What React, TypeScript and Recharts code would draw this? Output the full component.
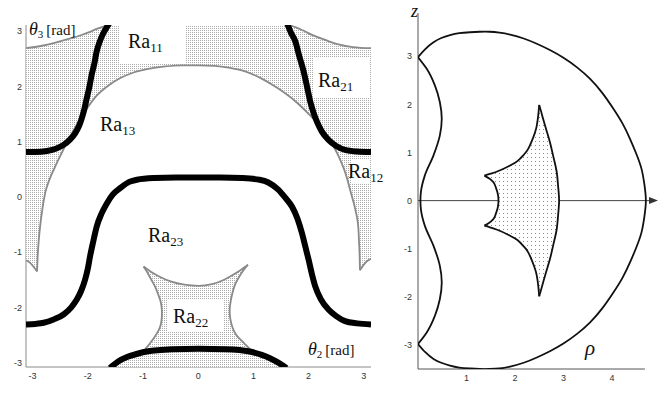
import React from 'react';
import { ScatterChart, Scatter, XAxis, YAxis, ReferenceLine } from 'recharts';

type Pt = { x: number; y: number };

// ---- left panel: joint space (theta2, theta3) ----
const thetaTicks = [-3, -2, -1, 0, 1, 2, 3];

const upperLeftEdge: Pt[] = [
  { x: -3.12, y: 2.69 }, { x: -2.85, y: 2.73 }, { x: -2.62, y: 2.78 }, { x: -2.38, y: 2.85 },
  { x: -2.14, y: 2.92 }, { x: -1.95, y: 2.99 }, { x: -1.84, y: 3.04 }, { x: -1.72, y: 3.08 },
  { x: -1.62, y: 3.11 },
];
const upperRightEdge: Pt[] = [
  { x: 1.64, y: 3.11 }, { x: 1.76, y: 3.07 }, { x: 1.9, y: 3.01 }, { x: 2.06, y: 2.93 },
  { x: 2.3, y: 2.84 }, { x: 2.54, y: 2.76 }, { x: 2.8, y: 2.71 }, { x: 3.13, y: 2.69 },
];
const arch: Pt[] = [
  { x: -2.92, y: -1.35 }, { x: -2.91, y: -1.1 }, { x: -2.89, y: -0.8 }, { x: -2.86, y: -0.5 },
  { x: -2.82, y: -0.2 }, { x: -2.77, y: 0.08 }, { x: -2.7, y: 0.3 }, { x: -2.6, y: 0.53 },
  { x: -2.48, y: 0.78 }, { x: -2.37, y: 1.0 }, { x: -2.25, y: 1.22 }, { x: -2.13, y: 1.42 },
  { x: -2.0, y: 1.62 }, { x: -1.84, y: 1.83 }, { x: -1.62, y: 2.02 }, { x: -1.41, y: 2.15 },
  { x: -1.17, y: 2.25 }, { x: -0.93, y: 2.31 }, { x: -0.6, y: 2.36 }, { x: -0.3, y: 2.38 },
  { x: 0, y: 2.38 }, { x: 0.3, y: 2.37 }, { x: 0.55, y: 2.34 }, { x: 0.85, y: 2.27 },
  { x: 1.15, y: 2.14 }, { x: 1.45, y: 1.96 }, { x: 1.76, y: 1.73 }, { x: 2.0, y: 1.5 },
  { x: 2.24, y: 1.24 }, { x: 2.4, y: 1.0 }, { x: 2.54, y: 0.74 }, { x: 2.67, y: 0.42 },
  { x: 2.77, y: 0.06 }, { x: 2.85, y: -0.25 }, { x: 2.9, y: -0.55 }, { x: 2.915, y: -0.85 },
  { x: 2.925, y: -1.1 }, { x: 2.93, y: -1.33 },
];
const leftSliver: Pt[] = [
  { x: -3.12, y: -1.15 }, { x: -3.05, y: -1.19 }, { x: -2.98, y: -1.27 }, { x: -2.92, y: -1.35 },
];
const rightSliver: Pt[] = [
  { x: 2.93, y: -1.33 }, { x: 2.99, y: -1.24 }, { x: 3.05, y: -1.17 }, { x: 3.13, y: -1.12 },
];
const ra11Bound: Pt[] = [
  { x: -3.12, y: 0.81 }, { x: -2.95, y: 0.81 }, { x: -2.74, y: 0.83 }, { x: -2.58, y: 0.87 },
  { x: -2.44, y: 0.94 }, { x: -2.32, y: 1.04 }, { x: -2.23, y: 1.15 }, { x: -2.16, y: 1.28 },
  { x: -2.11, y: 1.42 }, { x: -2.06, y: 1.6 }, { x: -2.02, y: 1.78 }, { x: -1.97, y: 2.0 },
  { x: -1.93, y: 2.21 }, { x: -1.88, y: 2.42 }, { x: -1.84, y: 2.63 }, { x: -1.78, y: 2.82 },
  { x: -1.72, y: 2.96 }, { x: -1.65, y: 3.08 }, { x: -1.61, y: 3.14 },
];
const ra21Bound: Pt[] = [
  { x: 1.61, y: 3.14 }, { x: 1.68, y: 2.97 }, { x: 1.76, y: 2.81 }, { x: 1.83, y: 2.55 },
  { x: 1.91, y: 2.27 }, { x: 1.97, y: 2.0 }, { x: 2.03, y: 1.72 }, { x: 2.09, y: 1.52 },
  { x: 2.15, y: 1.36 }, { x: 2.24, y: 1.18 }, { x: 2.36, y: 1.03 }, { x: 2.5, y: 0.92 },
  { x: 2.66, y: 0.85 }, { x: 2.88, y: 0.82 }, { x: 3.13, y: 0.81 },
];
const ra23Bound: Pt[] = [
  { x: -3.12, y: -2.31 }, { x: -2.95, y: -2.3 }, { x: -2.8, y: -2.28 }, { x: -2.62, y: -2.22 },
  { x: -2.44, y: -2.13 }, { x: -2.3, y: -2.0 }, { x: -2.2, y: -1.86 }, { x: -2.12, y: -1.7 },
  { x: -2.05, y: -1.5 }, { x: -2.0, y: -1.3 }, { x: -1.96, y: -1.08 }, { x: -1.9, y: -0.8 },
  { x: -1.84, y: -0.54 }, { x: -1.75, y: -0.3 }, { x: -1.65, y: -0.11 }, { x: -1.55, y: 0.04 },
  { x: -1.41, y: 0.16 }, { x: -1.25, y: 0.27 }, { x: -1.11, y: 0.31 }, { x: -0.8, y: 0.34 },
  { x: -0.4, y: 0.35 }, { x: 0, y: 0.35 }, { x: 0.4, y: 0.35 }, { x: 0.8, y: 0.34 },
  { x: 1.11, y: 0.31 }, { x: 1.27, y: 0.26 }, { x: 1.45, y: 0.13 }, { x: 1.58, y: -0.02 },
  { x: 1.7, y: -0.18 }, { x: 1.8, y: -0.4 }, { x: 1.88, y: -0.66 }, { x: 1.94, y: -0.9 },
  { x: 2.0, y: -1.14 }, { x: 2.06, y: -1.4 }, { x: 2.12, y: -1.62 }, { x: 2.22, y: -1.85 },
  { x: 2.36, y: -2.04 }, { x: 2.5, y: -2.16 }, { x: 2.66, y: -2.25 }, { x: 2.88, y: -2.29 },
  { x: 3.13, y: -2.31 },
];
const bottomArc: Pt[] = [
  { x: -1.6, y: -3.1 }, { x: -1.45, y: -2.98 }, { x: -1.29, y: -2.9 }, { x: -1.1, y: -2.84 },
  { x: -0.93, y: -2.8 }, { x: -0.45, y: -2.76 }, { x: 0, y: -2.75 }, { x: 0.5, y: -2.76 },
  { x: 0.93, y: -2.8 }, { x: 1.15, y: -2.86 }, { x: 1.3, y: -2.92 }, { x: 1.45, y: -3.0 },
  { x: 1.6, y: -3.1 },
];
const ra22Left: Pt[] = [
  { x: -0.97, y: -2.77 }, { x: -0.88, y: -2.66 }, { x: -0.8, y: -2.55 }, { x: -0.73, y: -2.44 },
  { x: -0.68, y: -2.32 }, { x: -0.66, y: -2.18 }, { x: -0.66, y: -2.04 }, { x: -0.68, y: -1.9 },
  { x: -0.72, y: -1.78 }, { x: -0.78, y: -1.63 }, { x: -0.85, y: -1.5 }, { x: -0.92, y: -1.37 },
  { x: -0.99, y: -1.26 },
];
const ra22Top: Pt[] = [
  { x: -0.99, y: -1.26 }, { x: -0.85, y: -1.36 }, { x: -0.69, y: -1.45 }, { x: -0.5, y: -1.53 },
  { x: -0.25, y: -1.59 }, { x: 0, y: -1.61 }, { x: 0.25, y: -1.58 }, { x: 0.45, y: -1.51 },
  { x: 0.6, y: -1.43 }, { x: 0.75, y: -1.34 }, { x: 0.9, y: -1.23 },
];
const ra22Right: Pt[] = [
  { x: 0.95, y: -2.77 }, { x: 0.86, y: -2.68 }, { x: 0.78, y: -2.6 }, { x: 0.69, y: -2.5 },
  { x: 0.62, y: -2.36 }, { x: 0.58, y: -2.2 }, { x: 0.57, y: -2.04 }, { x: 0.59, y: -1.88 },
  { x: 0.62, y: -1.74 }, { x: 0.67, y: -1.58 }, { x: 0.74, y: -1.45 }, { x: 0.82, y: -1.33 },
  { x: 0.9, y: -1.23 },
];

// ---- right panel: workspace (rho, z) ----
const rhoTicks = [1, 2, 3, 4];
const zTicks = [-3, -2, -1, 0, 1, 2, 3];

const outerArc: Pt[] = [
  { x: 0, y: 2.98 }, { x: 0.15, y: 3.15 }, { x: 0.32, y: 3.29 }, { x: 0.48, y: 3.38 },
  { x: 0.66, y: 3.44 }, { x: 0.85, y: 3.48 }, { x: 1.07, y: 3.5 }, { x: 1.27, y: 3.51 },
  { x: 1.48, y: 3.51 }, { x: 1.68, y: 3.49 }, { x: 1.9, y: 3.45 }, { x: 2.18, y: 3.37 },
  { x: 2.45, y: 3.26 }, { x: 2.72, y: 3.13 }, { x: 3.0, y: 2.97 }, { x: 3.28, y: 2.77 },
  { x: 3.55, y: 2.53 }, { x: 3.8, y: 2.24 }, { x: 4.03, y: 1.91 }, { x: 4.22, y: 1.6 },
  { x: 4.37, y: 1.29 }, { x: 4.5, y: 0.98 }, { x: 4.61, y: 0.66 }, { x: 4.67, y: 0.33 },
  { x: 4.7, y: 0 }, { x: 4.67, y: -0.33 }, { x: 4.61, y: -0.66 }, { x: 4.5, y: -0.98 },
  { x: 4.37, y: -1.29 }, { x: 4.22, y: -1.6 }, { x: 4.03, y: -1.91 }, { x: 3.8, y: -2.24 },
  { x: 3.55, y: -2.53 }, { x: 3.28, y: -2.77 }, { x: 3.0, y: -2.97 }, { x: 2.72, y: -3.13 },
  { x: 2.45, y: -3.26 }, { x: 2.18, y: -3.37 }, { x: 1.9, y: -3.45 }, { x: 1.68, y: -3.49 },
  { x: 1.48, y: -3.5 }, { x: 1.27, y: -3.5 }, { x: 1.07, y: -3.49 }, { x: 0.85, y: -3.47 },
  { x: 0.66, y: -3.43 }, { x: 0.48, y: -3.37 }, { x: 0.32, y: -3.29 }, { x: 0.15, y: -3.15 },
  { x: 0, y: -2.98 },
];
const innerConcave: Pt[] = [
  { x: 0, y: -2.98 }, { x: 0.18, y: -2.74 }, { x: 0.35, y: -2.39 }, { x: 0.45, y: -2.05 },
  { x: 0.49, y: -1.7 }, { x: 0.45, y: -1.35 }, { x: 0.32, y: -0.94 }, { x: 0.14, y: -0.52 },
  { x: 0.06, y: -0.18 }, { x: 0.05, y: 0 }, { x: 0.06, y: 0.18 }, { x: 0.14, y: 0.52 },
  { x: 0.32, y: 0.94 }, { x: 0.45, y: 1.35 }, { x: 0.49, y: 1.7 }, { x: 0.45, y: 2.05 },
  { x: 0.35, y: 2.39 }, { x: 0.18, y: 2.74 }, { x: 0, y: 2.98 },
];
const wingUpper: Pt[] = [
  { x: 1.37, y: 0.52 }, { x: 1.5, y: 0.56 }, { x: 1.62, y: 0.6 }, { x: 1.9, y: 0.73 },
  { x: 2.05, y: 0.82 }, { x: 2.17, y: 0.94 }, { x: 2.27, y: 1.07 }, { x: 2.34, y: 1.22 },
  { x: 2.4, y: 1.38 }, { x: 2.45, y: 1.56 }, { x: 2.48, y: 1.77 }, { x: 2.5, y: 1.99 },
];
const wingOuter: Pt[] = [
  { x: 2.5, y: -1.99 }, { x: 2.54, y: -1.85 }, { x: 2.58, y: -1.7 }, { x: 2.65, y: -1.46 },
  { x: 2.72, y: -1.22 }, { x: 2.79, y: -0.92 }, { x: 2.86, y: -0.6 }, { x: 2.89, y: -0.3 },
  { x: 2.91, y: 0 }, { x: 2.89, y: 0.3 }, { x: 2.86, y: 0.6 }, { x: 2.79, y: 0.92 },
  { x: 2.72, y: 1.22 }, { x: 2.65, y: 1.46 }, { x: 2.58, y: 1.7 }, { x: 2.54, y: 1.85 },
  { x: 2.5, y: 1.99 },
];
const wingLower: Pt[] = [
  { x: 1.37, y: -0.52 }, { x: 1.5, y: -0.56 }, { x: 1.62, y: -0.6 }, { x: 1.9, y: -0.73 },
  { x: 2.05, y: -0.82 }, { x: 2.17, y: -0.94 }, { x: 2.27, y: -1.07 }, { x: 2.34, y: -1.22 },
  { x: 2.4, y: -1.38 }, { x: 2.45, y: -1.56 }, { x: 2.48, y: -1.77 }, { x: 2.5, y: -1.99 },
];
const wingInner: Pt[] = [
  { x: 1.37, y: -0.52 }, { x: 1.47, y: -0.46 }, { x: 1.55, y: -0.39 }, { x: 1.61, y: -0.26 },
  { x: 1.65, y: -0.12 }, { x: 1.66, y: 0 }, { x: 1.65, y: 0.12 }, { x: 1.61, y: 0.26 },
  { x: 1.55, y: 0.39 }, { x: 1.47, y: 0.46 }, { x: 1.37, y: 0.52 },
];
const rhoArrowTip: Pt[] = [{ x: 4.95, y: 0 }];

// closed outlines for the stippled regions
const upperBand = [
  ...upperLeftEdge,
  ...upperRightEdge,
  ...[...rightSliver].reverse(),
  ...[...arch].reverse(),
  ...[...leftSliver].reverse(),
];
const ra22Region = [
  ...ra22Left,
  ...ra22Top,
  ...[...ra22Right].reverse(),
  ...bottomArc.filter((p) => p.x >= 1),
  ...bottomArc.filter((p) => p.x <= -1),
];
const wingRegion = [
  ...wingUpper,
  ...[...wingOuter].reverse(),
  ...[...wingLower].reverse(),
  ...wingInner,
];

const noDot = () => <g />;
const arrowHead = (p: any) => (
  <polygon
    points={`${p.cx},${p.cy} ${p.cx - 9},${p.cy - 3.5} ${p.cx - 9},${p.cy + 3.5}`}
    fill="#333"
  />
);

const GRAY = '#8a8a8a';
const tickStyle = { fontSize: 9, fill: '#333', fontFamily: "'Liberation Sans', Arial, sans-serif" };
const serif = "'Liberation Serif', 'Times New Roman', serif";

const RaLabel = ({ x, y, sub }: { x: number; y: number; sub: string }) => (
  <text x={x} y={y} fontFamily={serif} fontSize={20} fill="#111">
    Ra<tspan fontSize={13} dy={4}>{sub}</tspan>
  </text>
);

const AngleLabel = ({ x, y, sub }: { x: number; y: number; sub: string }) => (
  <text x={x} y={y} fontFamily={serif} fontSize={18} fill="#111">
    <tspan fontStyle="italic">θ</tspan>
    <tspan fontSize={11} dy={3}>{sub}</tspan>
    <tspan fontSize={15} dy={-3} dx={3}>[rad]</tspan>
  </text>
);

export default function App() {
  return (
    <div style={{ position: 'absolute', left: 0, top: 0, width: 665, height: 407, background: '#fff' }}>
      <div style={{ position: 'absolute', left: 0, top: 0 }}>
        <ScatterChart width={400} height={407} margin={{ top: 25, right: 29, bottom: 20, left: 0 }}>
          <defs>
            <pattern id="stippleL" width="2" height="2" patternUnits="userSpaceOnUse">
              <rect width="2" height="2" fill="#fff" />
              <rect width="1" height="1" fill="#ababab" />
            </pattern>
          </defs>
          <XAxis
            type="number"
            dataKey="x"
            domain={[-3.12, 3.13]}
            allowDataOverflow
            ticks={thetaTicks}
            interval={0}
            tickLine={false}
            tickSize={3}
            tickMargin={3}
            height={20}
            axisLine={{ stroke: GRAY }}
            tick={tickStyle}
          />
          <YAxis
            type="number"
            dataKey="y"
            domain={[-3.08, 3.11]}
            allowDataOverflow
            ticks={thetaTicks}
            interval={0}
            tickLine={false}
            tickSize={2}
            tickMargin={2}
            width={26}
            axisLine={{ stroke: GRAY }}
            tick={tickStyle}
          />
          <Scatter data={upperBand} shape={noDot} line={{ fill: 'url(#stippleL)', stroke: 'none' }} lineJointType="linear" isAnimationActive={false} />
          <Scatter data={ra22Region} shape={noDot} line={{ fill: 'url(#stippleL)', stroke: 'none' }} lineJointType="linear" isAnimationActive={false} />

          <Scatter data={upperLeftEdge} shape={noDot} line={{ stroke: GRAY, strokeWidth: 1.8, fill: 'none' }} lineJointType="monotoneX" isAnimationActive={false} />
          <Scatter data={upperRightEdge} shape={noDot} line={{ stroke: GRAY, strokeWidth: 1.8, fill: 'none' }} lineJointType="monotoneX" isAnimationActive={false} />
          <Scatter data={arch} shape={noDot} line={{ stroke: GRAY, strokeWidth: 1.8, fill: 'none' }} lineJointType="monotoneX" isAnimationActive={false} />
          <Scatter data={leftSliver} shape={noDot} line={{ stroke: GRAY, strokeWidth: 1.8, fill: 'none' }} lineJointType="monotoneX" isAnimationActive={false} />
          <Scatter data={rightSliver} shape={noDot} line={{ stroke: GRAY, strokeWidth: 1.8, fill: 'none' }} lineJointType="monotoneX" isAnimationActive={false} />
          <Scatter data={ra22Left} shape={noDot} line={{ stroke: GRAY, strokeWidth: 1.8, fill: 'none' }} lineJointType="natural" isAnimationActive={false} />
          <Scatter data={ra22Top} shape={noDot} line={{ stroke: GRAY, strokeWidth: 1.8, fill: 'none' }} lineJointType="monotoneX" isAnimationActive={false} />
          <Scatter data={ra22Right} shape={noDot} line={{ stroke: GRAY, strokeWidth: 1.8, fill: 'none' }} lineJointType="natural" isAnimationActive={false} />

          <Scatter data={ra11Bound} shape={noDot} line={{ stroke: '#000', strokeWidth: 6, fill: 'none' }} lineJointType="monotoneX" isAnimationActive={false} />
          <Scatter data={ra21Bound} shape={noDot} line={{ stroke: '#000', strokeWidth: 6, fill: 'none' }} lineJointType="monotoneX" isAnimationActive={false} />
          <Scatter data={ra23Bound} shape={noDot} line={{ stroke: '#000', strokeWidth: 6, fill: 'none' }} lineJointType="monotoneX" isAnimationActive={false} />
          <Scatter data={bottomArc} shape={noDot} line={{ stroke: '#000', strokeWidth: 6, fill: 'none' }} lineJointType="monotoneX" isAnimationActive={false} />
        </ScatterChart>
      </div>

      <div style={{ position: 'absolute', left: 390, top: 0 }}>
        <ScatterChart width={275} height={407} margin={{ top: 13, right: 7, bottom: 18, left: 0 }}>
          <defs>
            <pattern id="stippleR" width="4" height="4" patternUnits="userSpaceOnUse">
              <rect width="4" height="4" fill="#fff" />
              <rect x="1" y="1" width="1" height="1" fill="#8a8a8a" />
            </pattern>
          </defs>
          <XAxis
            type="number"
            dataKey="x"
            domain={[0, 4.95]}
            allowDataOverflow
            ticks={rhoTicks}
            interval={0}
            tickLine={false}
            tickSize={3}
            tickMargin={3}
            height={20}
            axisLine={false}
            tick={tickStyle}
          />
          <YAxis
            type="number"
            dataKey="y"
            domain={[-3.5, 3.9]}
            allowDataOverflow
            ticks={zTicks}
            interval={0}
            tickLine={false}
            tickSize={3}
            tickMargin={3}
            width={28}
            axisLine={{ stroke: '#555' }}
            tick={tickStyle}
          />
          <ReferenceLine segment={[{ x: 0, y: -3.5 }, { x: 4.68, y: -3.5 }]} stroke="#555" ifOverflow="visible" />
          <ReferenceLine segment={[{ x: 0, y: 0 }, { x: 4.88, y: 0 }]} stroke="#444" ifOverflow="visible" />

          <Scatter data={wingRegion} shape={noDot} line={{ fill: 'url(#stippleR)', stroke: 'none' }} lineJointType="linear" isAnimationActive={false} />
          <Scatter data={wingUpper} shape={noDot} line={{ stroke: '#111', strokeWidth: 1.8, fill: 'none' }} lineJointType="monotoneX" isAnimationActive={false} />
          <Scatter data={wingLower} shape={noDot} line={{ stroke: '#111', strokeWidth: 1.8, fill: 'none' }} lineJointType="monotoneX" isAnimationActive={false} />
          <Scatter data={wingOuter} shape={noDot} line={{ stroke: '#111', strokeWidth: 1.8, fill: 'none' }} lineJointType="monotoneY" isAnimationActive={false} />
          <Scatter data={wingInner} shape={noDot} line={{ stroke: '#111', strokeWidth: 1.8, fill: 'none' }} lineJointType="monotoneY" isAnimationActive={false} />
          <Scatter data={outerArc} shape={noDot} line={{ stroke: '#111', strokeWidth: 1.8, fill: 'none' }} lineJointType="natural" isAnimationActive={false} />
          <Scatter data={innerConcave} shape={noDot} line={{ stroke: '#111', strokeWidth: 1.8, fill: 'none' }} lineJointType="monotoneY" isAnimationActive={false} />
          <Scatter data={rhoArrowTip} shape={arrowHead} isAnimationActive={false} />
        </ScatterChart>
      </div>

      <svg width={665} height={407} style={{ position: 'absolute', left: 0, top: 0, pointerEvents: 'none' }}>
        <rect x={120} y={23} width={66} height={40} fill="#fff" />
        <rect x={313} y={58} width={57} height={39} fill="#fff" />
        <rect x={351} y={160} width={19} height={24} fill="#fff" />
        <rect x={168} y={300} width={55} height={31} fill="#fff" />
        <AngleLabel x={29} y={35} sub="3" />
        <RaLabel x={128} y={48} sub="11" />
        <RaLabel x={318} y={87} sub="21" />
        <RaLabel x={100} y={131} sub="13" />
        <RaLabel x={348} y={178} sub="12" />
        <RaLabel x={148} y={242} sub="23" />
        <RaLabel x={173} y={323} sub="22" />
        <AngleLabel x={308} y={355} sub="2" />
        <text x={411} y={17} fontFamily={serif} fontStyle="italic" fontSize={18} fill="#111">z</text>
        <text x={585} y={355} fontFamily={serif} fontStyle="italic" fontSize={21} fill="#111">ρ</text>
      </svg>
    </div>
  );
}
